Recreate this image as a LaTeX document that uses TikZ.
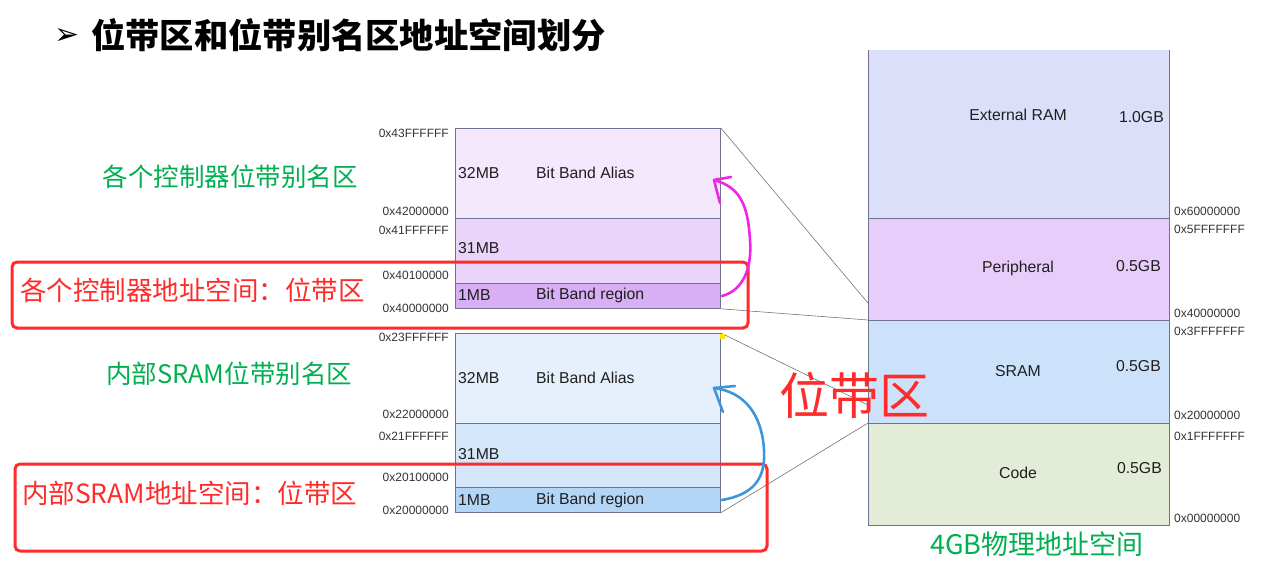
\documentclass[tikz,border=0pt]{standalone}
\usepackage{fontspec}
\setmainfont{Liberation Sans}
\newfontfamily\cjk{Noto Sans CJK SC}
\newfontfamily\symfont{DejaVu Sans}
\usetikzlibrary{positioning}
\definecolor{noteGreen}{HTML}{00B050}
\definecolor{noteRed}{HTML}{FF2B2B}
\definecolor{edgeGray}{HTML}{6E7391}
\definecolor{aliasP}{HTML}{F4E8FC}
\definecolor{midP}{HTML}{EAD4FA}
\definecolor{bandP}{HTML}{D8AEF4}
\definecolor{aliasB}{HTML}{E6F0FC}
\definecolor{midB}{HTML}{D4E6FA}
\definecolor{bandB}{HTML}{B4D6F6}
\definecolor{extC}{HTML}{DCDFFA}
\definecolor{periC}{HTML}{E8CCFA}
\definecolor{sramC}{HTML}{CCE2FA}
\definecolor{codeC}{HTML}{E2ECD6}
\definecolor{penPink}{HTML}{F026E6}
\definecolor{penBlue}{HTML}{3C96DC}

\begin{document}
\begin{tikzpicture}[x=1pt,y=-1pt,
    blk/.style={draw=edgeGray, line width=0.8pt, anchor=north west, inner sep=0pt, minimum width=265pt},
    mapblk/.style={blk, minimum width=301pt, minimum height=102pt},
    addr/.style={inner sep=0pt, text=black!80, font=\fontsize{12}{14}\selectfont},
    lbl/.style={inner sep=0pt, text=black!88, font=\fontsize{15.8}{18}\selectfont},
    note/.style={inner sep=0pt, font=\cjk\fontsize{25.5}{28}\selectfont},
    hand/.style={line width=2.6pt, line cap=round, line join=round},
    mapline/.style={draw=black!55, line width=0.6pt}]
    \useasboundingbox (0,0) rectangle (1280,566);

    % title
    \node[inner sep=0pt, font=\symfont\fontsize{30}{32}\selectfont] (bullet) at (67,36) {➢};
    \node[inner sep=0pt, anchor=west, font=\cjk\bfseries\fontsize{34.3}{38}\selectfont] (title) at (91,35)
        {位带区和位带别名区地址空间划分};

    % bit band blocks, peripheral
    \node[blk, fill=aliasP, minimum height=90pt] (paAlias) at (455,128) {};
    \node[blk, fill=midP, minimum height=65pt] (paMid) at (455,218) {};
    \node[blk, fill=bandP, minimum height=25pt] (paBand) at (455,283) {};
    % bit band blocks, SRAM
    \node[blk, fill=aliasB, minimum height=90pt] (srAlias) at (455,333) {};
    \node[blk, fill=midB, minimum height=64pt] (srMid) at (455,423) {};
    \node[blk, fill=bandB, minimum height=25pt] (srBand) at (455,487) {};

    % 4GB map
    \node[mapblk, fill=extC, draw=none, minimum height=168pt] (ext) at (868,50) {};
    \draw[edgeGray, line width=0.8pt] (ext.north west) -- (ext.south west) (ext.north east) -- (ext.south east);
    \node[mapblk, fill=periC] (peri) at (868,218) {};
    \node[mapblk, fill=sramC, minimum height=103pt] (sram) at (868,320) {};
    \node[mapblk, fill=codeC] (code) at (868,423) {};

    % zoom lines
    \coordinate (periHit) at (868,303);
    \coordinate (sramHit) at (868,405);
    \draw[mapline] (paAlias.north east) -- (periHit);
    \draw[mapline] (paBand.south east) -- (sram.north west);
    \draw[mapline] (srAlias.north east) -- (sramHit);
    \draw[mapline] (srBand.south east) -- (code.north west);
    \fill[yellow!85!orange] (719.5,333.5) rectangle (724.5,338.5);

    % texts in the blocks
    \node[lbl, anchor=west] (paS1) at (458,173) {32MB};
    \node[lbl, anchor=west] (paT1) at (536,173) {Bit Band Alias};
    \node[lbl, anchor=west] (paS2) at (458,248) {31MB};
    \node[lbl, anchor=west] (paS3) at (458,295) {1MB};
    \node[lbl, anchor=west] (paT3) at (536,295) {Bit Band region};
    \node[lbl, anchor=west] (srS1) at (458,378) {32MB};
    \node[lbl, anchor=west] (srT1) at (536,378) {Bit Band Alias};
    \node[lbl, anchor=west] (srS2) at (458,454) {31MB};
    \node[lbl, anchor=west] (srS3) at (458,500) {1MB};
    \node[lbl, anchor=west] (srT3) at (536,500) {Bit Band region};

    \node[lbl] (extName) at (1018,115) {External RAM};
    \node[lbl, anchor=east] (extSize) at (1164,117) {1.0GB};
    \node[lbl] (periName) at (1018,268) {Peripheral};
    \node[lbl, anchor=east] (periSize) at (1161,266) {0.5GB};
    \node[lbl] (sramName) at (1018,371) {SRAM};
    \node[lbl, anchor=east] (sramSize) at (1161,366) {0.5GB};
    \node[lbl] (codeName) at (1018,473) {Code};
    \node[lbl, anchor=east] (codeSize) at (1162,468) {0.5GB};

    % addresses
    \foreach \a/\y in {0x43FFFFFF/133, 0x42000000/211, 0x41FFFFFF/230, 0x40100000/275, 0x40000000/308,
                       0x23FFFFFF/337, 0x22000000/414, 0x21FFFFFF/436, 0x20100000/477, 0x20000000/510}
        \node[addr, anchor=east] (addrL\y) at (449,\y) {\a};
    \foreach \a/\y in {0x60000000/211, 0x5FFFFFFF/229, 0x40000000/313, 0x3FFFFFFF/331,
                       0x20000000/415, 0x1FFFFFFF/436, 0x00000000/518}
        \node[addr, anchor=west] (addrR\y) at (1174,\y) {\a};

    % notes
    \node[note, text=noteGreen] (paNote) at (230,177) {各个控制器位带别名区};
    \node[note, text=noteGreen] (srNote) at (229,374) {内部SRAM位带别名区};
    \node[note, text=noteRed, anchor=west, font=\cjk\fontsize{26.5}{28}\selectfont] (paRegion) at (20,290) {各个控制器地址空间：位带区};
    \node[note, text=noteRed, anchor=west, font=\cjk\fontsize{26.5}{28}\selectfont] (srRegion) at (22,493) {内部SRAM地址空间：位带区};
    \node[note, text=noteGreen, font=\cjk\fontsize{27}{30}\selectfont] (mapNote) at (1037,544) {4GB物理地址空间};
    \node[inner sep=0pt, text=noteRed, font=\cjk\fontsize{50}{54}\selectfont] (bandBig) at (854,395) {位带区};

    % red frames
    \draw[noteRed, line width=3pt, rounded corners=5pt] (12,262) rectangle (748,328);
    \draw[noteRed, line width=3pt, rounded corners=5pt] (15,464) rectangle (767,551);

    % pen strokes
    \coordinate (pinkFrom) at (722,296);
    \coordinate (pinkTo) at (714,180);
    \draw[hand, penPink] (pinkFrom) .. controls (745,290) and (752,265) .. (750,240)
        .. controls (748,205) and (740,187) .. (pinkTo);
    \draw[hand, penPink] (731,177) -- (pinkTo) -- (720,203);
    \coordinate (blueFrom) at (722,500);
    \coordinate (blueTo) at (714,388);
    \draw[hand, penBlue] (blueFrom) .. controls (750,495) and (766,482) .. (764,450)
        .. controls (762,415) and (745,392) .. (blueTo);
    \draw[hand, penBlue] (735,386) -- (blueTo) -- (723,412);
\end{tikzpicture}
\end{document}
